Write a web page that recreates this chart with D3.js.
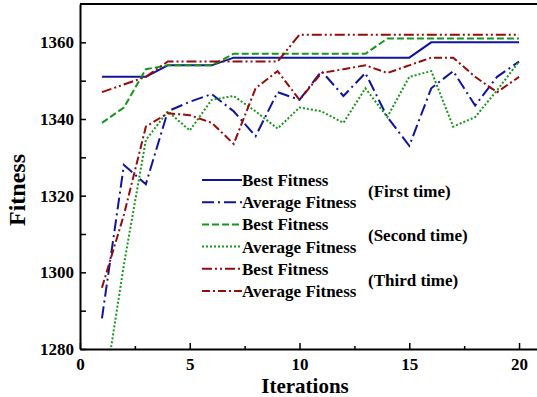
<!DOCTYPE html>
<html>
<head>
<meta charset="utf-8">
<script src="https://cdn.jsdelivr.net/npm/d3@7"></script>
<style>
  body { margin: 0; background: #fff; }
  text { font-family: "Liberation Serif", "Times New Roman", serif; font-weight: bold; }
</style>
</head>
<body>
<svg id="chart"></svg>
<script>
const iterations = d3.range(1, 21);

const best1 = [1351, 1351, 1351, 1354, 1354, 1354, 1356, 1356, 1356, 1356, 1356, 1356, 1356, 1356, 1356, 1360, 1360, 1360, 1360, 1360];
const avg1 = [1288, 1328, 1323, 1342, 1344.5, 1346.5, 1342, 1335.5, 1347, 1345, 1352.5, 1346, 1352, 1340.5, 1333, 1348, 1352.5, 1343.5, 1351, 1355];
const best2 = [1339, 1343, 1353, 1354, 1354, 1354, 1357, 1357, 1357, 1357, 1357, 1357, 1357, 1361, 1361, 1361, 1361, 1361, 1361, 1361];
const avg2 = [1265, 1302, 1334.5, 1342, 1337, 1345, 1346, 1342, 1337.5, 1343, 1342, 1339, 1348, 1340.5, 1351, 1352.5, 1338, 1340.5, 1347.5, 1355];
const best3 = [1347, 1349, 1351, 1355, 1355, 1355, 1355, 1355, 1355, 1362, 1362, 1362, 1362, 1362, 1362, 1362, 1362, 1362, 1362, 1362];
const avg3 = [1296, 1315, 1338, 1341.5, 1341, 1339, 1333.5, 1348, 1352.5, 1345, 1352, 1353, 1354, 1352, 1354, 1356, 1356, 1351, 1347, 1351];

const xTicks = [0, 5, 10, 15, 20];
const xMinorTicks = [2.5, 7.5, 12.5, 17.5];
const yTicks = [1280, 1300, 1320, 1340, 1360];
const yMinorTicks = [1290, 1310, 1330, 1350];

const legendLabels = ["Best Fitness", "Average Fitness", "Best Fitness", "Average Fitness", "Best Fitness", "Average Fitness"];
const groupLabels = ["(First time)", "(Second time)", "(Third time)"];

const seriesList = [
  { values: best1, color: "#10149c", dash: null },
  { values: avg1, color: "#10149c", dash: "12,4,2,4" },
  { values: best2, color: "#16961a", dash: "7,3" },
  { values: avg2, color: "#16961a", dash: "2,2" },
  { values: best3, color: "#960a0a", dash: "10,3,2,3,2,3" },
  { values: avg3, color: "#960a0a", dash: "8,3,2,3" }
];

const width = 537, height = 397;
const svg = d3.select("#chart").attr("width", width).attr("height", height);

const x = d3.scaleLinear().domain([0, 21]).range([80, 541]);
const y = d3.scaleLinear().domain([1280, 1370]).range([349, 4]);

svg.append("defs").append("clipPath").attr("id", "plotClip")
  .append("rect")
  .attr("x", x(0)).attr("y", y(1370))
  .attr("width", x(21) - x(0)).attr("height", y(1280) - y(1370));

// lines
const line = d3.line()
  .x((d, i) => x(iterations[i]))
  .y(d => y(d));

const lineG = svg.append("g").attr("clip-path", "url(#plotClip)");
seriesList.forEach(s => {
  lineG.append("path")
    .datum(s.values)
    .attr("d", line)
    .attr("fill", "none")
    .attr("stroke", s.color)
    .attr("stroke-width", 2)
    .attr("stroke-dasharray", s.dash);
});

// axes
const xAxis = d3.axisBottom(x).tickValues(xTicks).tickSizeInner(-6).tickSizeOuter(0).tickPadding(9);
const xAxisG = svg.append("g").attr("transform", `translate(0,${y(1280)})`).call(xAxis);
xAxisG.select(".domain").attr("stroke-width", 2);
xAxisG.selectAll(".tick line").attr("stroke-width", 1.5);
xAxisG.selectAll(".tick text").attr("font-size", 17).attr("font-family", "Liberation Serif").attr("font-weight", "bold").attr("fill", "#000");

const xMinor = d3.axisBottom(x).tickValues(xMinorTicks).tickSize(-3).tickFormat("");
const xMinorG = svg.append("g").attr("transform", `translate(0,${y(1280)})`).call(xMinor);
xMinorG.select(".domain").remove();
xMinorG.selectAll(".tick line").attr("stroke-width", 1.5);

const yAxis = d3.axisLeft(y).tickValues(yTicks).tickSizeInner(-6).tickSizeOuter(0).tickPadding(6).tickFormat(d3.format("d"));
const yAxisG = svg.append("g").attr("transform", `translate(${x(0)},0)`).call(yAxis);
yAxisG.select(".domain").attr("stroke-width", 2);
yAxisG.selectAll(".tick line").attr("stroke-width", 1.5);
yAxisG.selectAll(".tick text").attr("font-size", 17).attr("font-family", "Liberation Serif").attr("font-weight", "bold").attr("fill", "#000");

const yMinor = d3.axisLeft(y).tickValues(yMinorTicks).tickSize(-6).tickFormat("");
const yMinorG = svg.append("g").attr("transform", `translate(${x(0)},0)`).call(yMinor);
yMinorG.select(".domain").remove();
yMinorG.selectAll(".tick line").attr("stroke-width", 1.5);

// top frame
svg.append("line")
  .attr("x1", x(0)).attr("x2", width)
  .attr("y1", y(1370)).attr("y2", y(1370))
  .attr("stroke", "#000").attr("stroke-width", 2);

// axis titles
svg.append("text")
  .attr("x", 305).attr("y", 393)
  .attr("text-anchor", "middle")
  .attr("font-size", 21)
  .text("Iterations");

svg.append("text")
  .attr("transform", "translate(25,190) rotate(-90)")
  .attr("text-anchor", "middle")
  .attr("font-size", 24)
  .text("Fitness");

// legend
const legendG = svg.append("g").attr("transform", "translate(202,180)");
const rowH = 22.2;
legendLabels.forEach((lbl, i) => {
  const s = seriesList[i];
  legendG.append("line")
    .attr("x1", 0).attr("x2", 40)
    .attr("y1", i * rowH).attr("y2", i * rowH)
    .attr("stroke", s.color).attr("stroke-width", 2)
    .attr("stroke-dasharray", s.dash);
  legendG.append("text")
    .attr("x", 40).attr("y", i * rowH)
    .attr("dy", "0.35em")
    .attr("font-size", 17)
    .text(lbl);
});
groupLabels.forEach((lbl, i) => {
  legendG.append("text")
    .attr("x", 166).attr("y", (i * 2 + 0.5) * rowH)
    .attr("dy", "0.35em")
    .attr("font-size", 17)
    .text(lbl);
});
</script>
</body>
</html>
